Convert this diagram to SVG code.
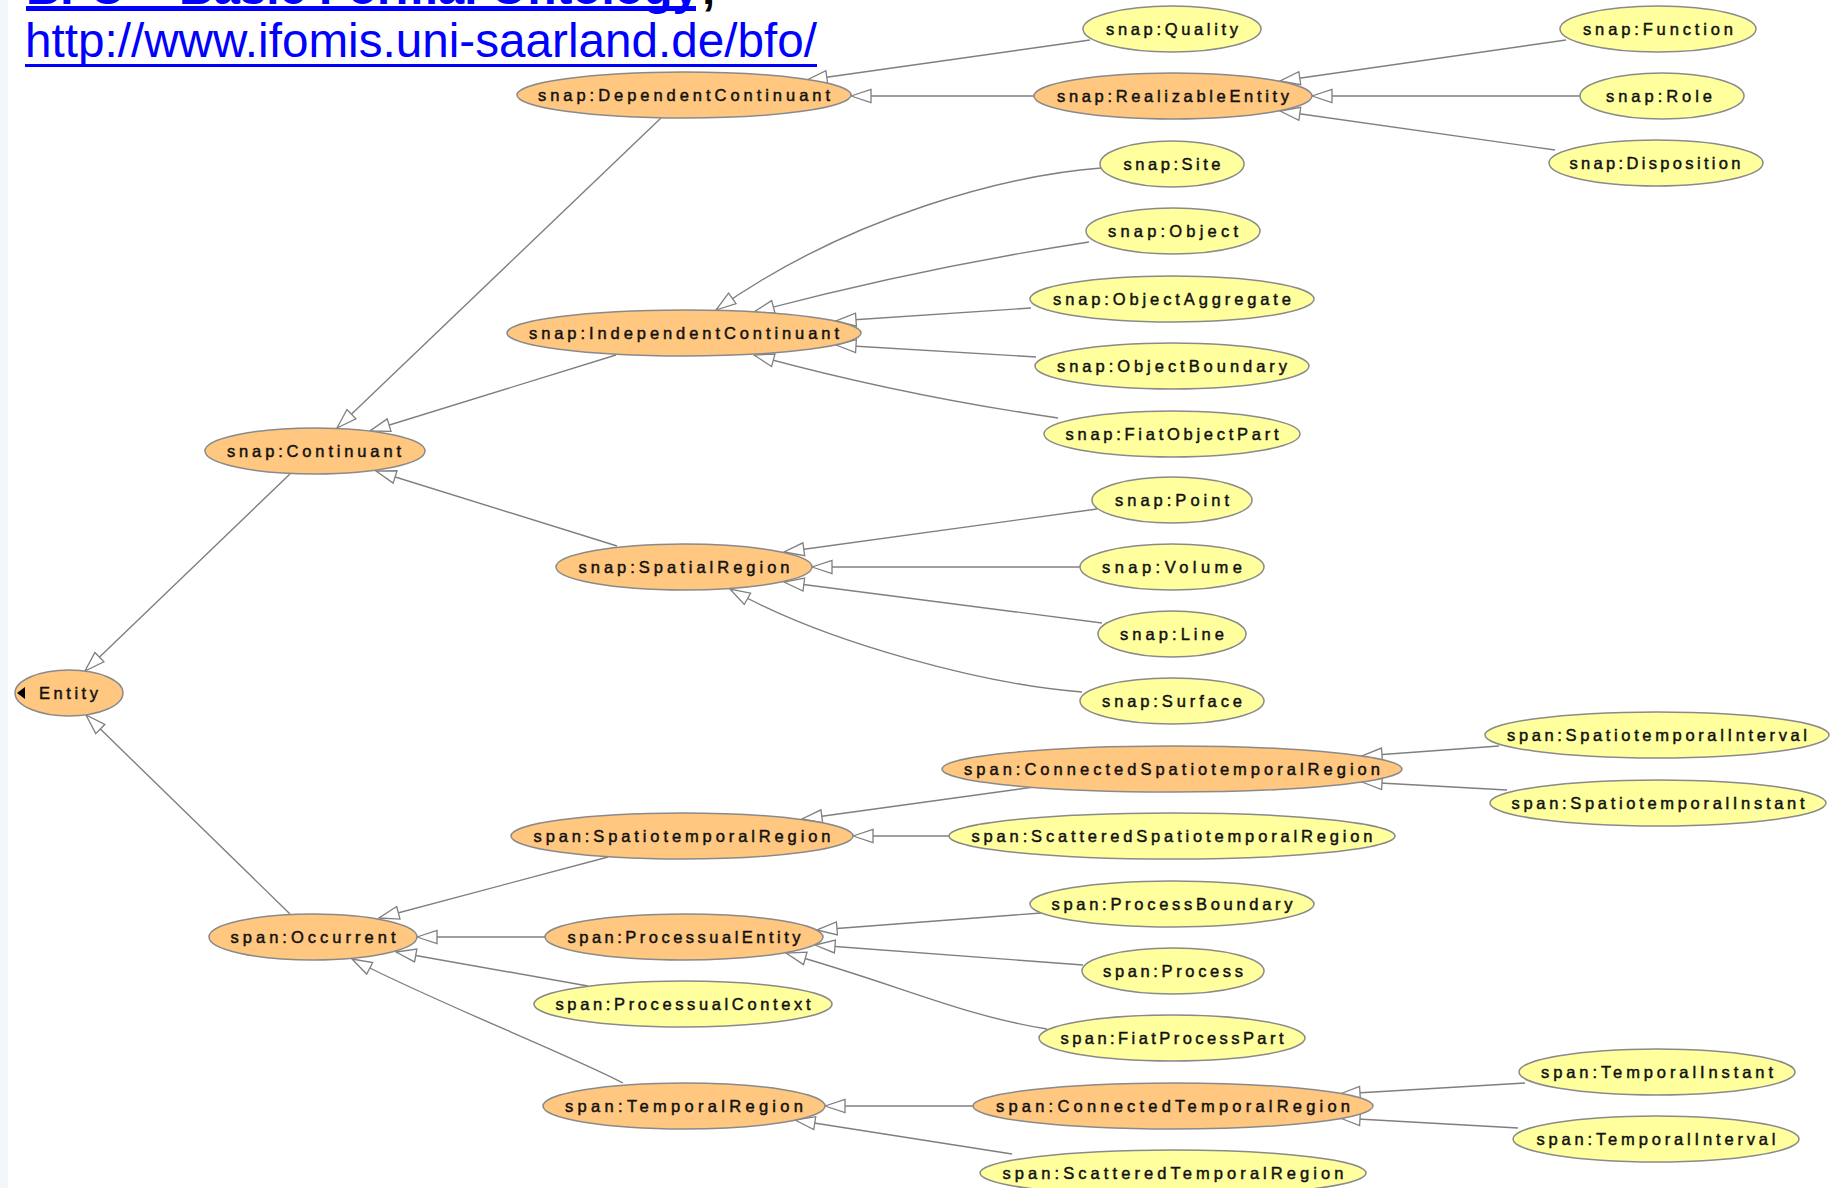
<svg xmlns="http://www.w3.org/2000/svg" width="1834" height="1188" viewBox="0 0 1834 1188">
  <defs>
    <marker id="hollow" viewBox="0 0 22 16" markerWidth="22" markerHeight="16" markerUnits="userSpaceOnUse" refX="21" refY="8" orient="auto">
      <path d="M21,8 L1,1.5 L1,14.5 Z" fill="#ffffff" stroke="#7f7f7f" stroke-width="1.3" stroke-linejoin="miter"/>
    </marker>
  </defs>
  <style>
    .edge { fill: none; stroke: #7f7f7f; stroke-width: 1.4; marker-end: url(#hollow); }
    .node ellipse { stroke: #8a8a8a; stroke-width: 1.5; }
    .parent ellipse { fill: #FFC77F; }
    .leaf ellipse { fill: #FFFF9E; }
    .node text { font-family: "Liberation Sans", Arial, sans-serif; font-size: 16.5px; fill: #111111; stroke: #111111; stroke-width: 0.45; text-anchor: middle; }
    .link { font-family: "Liberation Sans", Arial, sans-serif; fill: #0000FF; }
  </style>

  <rect x="0" y="0" width="1834" height="1188" fill="#ffffff"/>
  <rect x="0" y="0" width="8" height="1188" fill="#F3F6FA"/>

  <!-- header links (first line runs off the top edge) -->
  <g id="header">
    <text class="link" x="26" y="4" font-size="47.5" font-weight="bold">BFO – Basic Formal Ontology</text>
    <rect x="26" y="6" width="670" height="5" fill="#0000FF"/>
    <text x="702" y="4" font-family="Liberation Sans, Arial, sans-serif" font-size="47.5" font-weight="bold" fill="#000000">,</text>
    <text class="link" x="25" y="57" font-size="47.5" textLength="792" lengthAdjust="spacingAndGlyphs">http://www.ifomis.uni-saarland.de/bfo/</text>
    <rect x="25" y="64" width="792" height="3" fill="#0000FF"/>
  </g>

  <!-- subclass connectors, arrow at the superclass -->
  <g id="connectors">
    <path class="edge" d="M1090,40 L807,80"/>
    <path class="edge" d="M1034,96 L851,96"/>
    <path class="edge" d="M1566,40 L1280,81"/>
    <path class="edge" d="M1580,96 L1312,96"/>
    <path class="edge" d="M1555,150 L1280,111"/>
    <path class="edge" d="M661,118 L337,428"/>
    <path class="edge" d="M616,355 L370,431"/>
    <path class="edge" d="M1101,168 C1010,175 850,215 716,310"/>
    <path class="edge" d="M1089,242 Q920,268 754,312"/>
    <path class="edge" d="M1031,308 L836,321"/>
    <path class="edge" d="M1036,357 L836,345"/>
    <path class="edge" d="M1058,418 Q900,395 754,355"/>
    <path class="edge" d="M617,546 L376,471"/>
    <path class="edge" d="M290,474 L85,671"/>
    <path class="edge" d="M290,914 L86,715"/>
    <path class="edge" d="M1097,509 L784,552"/>
    <path class="edge" d="M1080,567 L812,567"/>
    <path class="edge" d="M1102,623 L784,582"/>
    <path class="edge" d="M1082,692 C990,685 830,645 730,589"/>
    <path class="edge" d="M1499,746 L1362,756"/>
    <path class="edge" d="M1507,790 L1362,782"/>
    <path class="edge" d="M1034,787 L802,819"/>
    <path class="edge" d="M949,836 L853,836"/>
    <path class="edge" d="M608,857 L379,918"/>
    <path class="edge" d="M545,937 L417,937"/>
    <path class="edge" d="M588,986 L396,952"/>
    <path class="edge" d="M623,1083 C570,1055 430,1000 352,959"/>
    <path class="edge" d="M1041,913 L817,930"/>
    <path class="edge" d="M1083,965 L815,945"/>
    <path class="edge" d="M1047,1029 C960,1015 900,985 786,953"/>
    <path class="edge" d="M973,1106 L825,1106"/>
    <path class="edge" d="M1012,1154 L795,1120"/>
    <path class="edge" d="M1525,1083 L1340,1094"/>
    <path class="edge" d="M1518,1128 L1340,1118"/>
  </g>

  <!-- class nodes -->
  <g id="n-entity" class="node parent">
    <ellipse cx="69" cy="693" rx="54" ry="23"/>
    <path d="M17,693 L25,687 L25,699 Z" fill="#000000"/>
    <text x="68.5" y="699" textLength="59" lengthAdjust="spacing">Entity</text>
  </g>
  <g id="n-continuant" class="node parent">
    <ellipse cx="315" cy="451" rx="110" ry="23"/>
    <text x="314" y="457" textLength="174" lengthAdjust="spacing">snap:Continuant</text>
  </g>
  <g id="n-occurrent" class="node parent">
    <ellipse cx="313" cy="937" rx="104" ry="23"/>
    <text x="313" y="943" textLength="165" lengthAdjust="spacing">span:Occurrent</text>
  </g>
  <g id="n-dependent-continuant" class="node parent">
    <ellipse cx="684" cy="95" rx="167" ry="23"/>
    <text x="684" y="101" textLength="292" lengthAdjust="spacing">snap:DependentContinuant</text>
  </g>
  <g id="n-independent-continuant" class="node parent">
    <ellipse cx="684" cy="333" rx="177" ry="23"/>
    <text x="684" y="339" textLength="310" lengthAdjust="spacing">snap:IndependentContinuant</text>
  </g>
  <g id="n-spatial-region" class="node parent">
    <ellipse cx="684" cy="567" rx="128" ry="23"/>
    <text x="684" y="573" textLength="211" lengthAdjust="spacing">snap:SpatialRegion</text>
  </g>
  <g id="n-spatiotemporal-region" class="node parent">
    <ellipse cx="682" cy="836" rx="171" ry="23"/>
    <text x="682" y="842" textLength="297" lengthAdjust="spacing">span:SpatiotemporalRegion</text>
  </g>
  <g id="n-processual-entity" class="node parent">
    <ellipse cx="684" cy="937" rx="139" ry="23"/>
    <text x="684" y="943" textLength="233" lengthAdjust="spacing">span:ProcessualEntity</text>
  </g>
  <g id="n-processual-context" class="node leaf">
    <ellipse cx="683" cy="1004" rx="149" ry="23"/>
    <text x="683" y="1010" textLength="255" lengthAdjust="spacing">span:ProcessualContext</text>
  </g>
  <g id="n-temporal-region" class="node parent">
    <ellipse cx="684" cy="1106" rx="141" ry="23"/>
    <text x="684" y="1112" textLength="238" lengthAdjust="spacing">span:TemporalRegion</text>
  </g>
  <g id="n-quality" class="node leaf">
    <ellipse cx="1172" cy="29" rx="89" ry="23"/>
    <text x="1172" y="35" textLength="132" lengthAdjust="spacing">snap:Quality</text>
  </g>
  <g id="n-realizable-entity" class="node parent">
    <ellipse cx="1173" cy="96" rx="139" ry="23"/>
    <text x="1173" y="102" textLength="232" lengthAdjust="spacing">snap:RealizableEntity</text>
  </g>
  <g id="n-site" class="node leaf">
    <ellipse cx="1172" cy="164" rx="72" ry="23"/>
    <text x="1172" y="170" textLength="97" lengthAdjust="spacing">snap:Site</text>
  </g>
  <g id="n-object" class="node leaf">
    <ellipse cx="1173" cy="231" rx="87" ry="23"/>
    <text x="1173" y="237" textLength="130" lengthAdjust="spacing">snap:Object</text>
  </g>
  <g id="n-object-aggregate" class="node leaf">
    <ellipse cx="1172" cy="299" rx="142" ry="23"/>
    <text x="1172" y="305" textLength="238" lengthAdjust="spacing">snap:ObjectAggregate</text>
  </g>
  <g id="n-object-boundary" class="node leaf">
    <ellipse cx="1172" cy="366" rx="137" ry="23"/>
    <text x="1172" y="372" textLength="230" lengthAdjust="spacing">snap:ObjectBoundary</text>
  </g>
  <g id="n-fiat-object-part" class="node leaf">
    <ellipse cx="1172" cy="434" rx="128" ry="23"/>
    <text x="1172" y="440" textLength="213" lengthAdjust="spacing">snap:FiatObjectPart</text>
  </g>
  <g id="n-point" class="node leaf">
    <ellipse cx="1172" cy="500" rx="80" ry="23"/>
    <text x="1172" y="506" textLength="114" lengthAdjust="spacing">snap:Point</text>
  </g>
  <g id="n-volume" class="node leaf">
    <ellipse cx="1172" cy="567" rx="92" ry="23"/>
    <text x="1172" y="573" textLength="140" lengthAdjust="spacing">snap:Volume</text>
  </g>
  <g id="n-line" class="node leaf">
    <ellipse cx="1172" cy="634" rx="74" ry="23"/>
    <text x="1172" y="640" textLength="104" lengthAdjust="spacing">snap:Line</text>
  </g>
  <g id="n-surface" class="node leaf">
    <ellipse cx="1172" cy="701" rx="92" ry="23"/>
    <text x="1172" y="707" textLength="140" lengthAdjust="spacing">snap:Surface</text>
  </g>
  <g id="n-connected-spatiotemporal-region" class="node parent">
    <ellipse cx="1172" cy="769" rx="230" ry="23"/>
    <text x="1172" y="775" textLength="416" lengthAdjust="spacing">span:ConnectedSpatiotemporalRegion</text>
  </g>
  <g id="n-scattered-spatiotemporal-region" class="node leaf">
    <ellipse cx="1172" cy="836" rx="223" ry="23"/>
    <text x="1172" y="842" textLength="401" lengthAdjust="spacing">span:ScatteredSpatiotemporalRegion</text>
  </g>
  <g id="n-process-boundary" class="node leaf">
    <ellipse cx="1172" cy="904" rx="142" ry="23"/>
    <text x="1172" y="910" textLength="241" lengthAdjust="spacing">span:ProcessBoundary</text>
  </g>
  <g id="n-process" class="node leaf">
    <ellipse cx="1173" cy="971" rx="91" ry="23"/>
    <text x="1173" y="977" textLength="140" lengthAdjust="spacing">span:Process</text>
  </g>
  <g id="n-fiat-process-part" class="node leaf">
    <ellipse cx="1172" cy="1038" rx="133" ry="23"/>
    <text x="1172" y="1044" textLength="223" lengthAdjust="spacing">span:FiatProcessPart</text>
  </g>
  <g id="n-connected-temporal-region" class="node parent">
    <ellipse cx="1173" cy="1106" rx="200" ry="23"/>
    <text x="1173" y="1112" textLength="354" lengthAdjust="spacing">span:ConnectedTemporalRegion</text>
  </g>
  <g id="n-scattered-temporal-region" class="node leaf">
    <ellipse cx="1173" cy="1173" rx="193" ry="23"/>
    <text x="1173" y="1179" textLength="341" lengthAdjust="spacing">span:ScatteredTemporalRegion</text>
  </g>
  <g id="n-function" class="node leaf">
    <ellipse cx="1658" cy="29" rx="98" ry="23"/>
    <text x="1658" y="35" textLength="150" lengthAdjust="spacing">snap:Function</text>
  </g>
  <g id="n-role" class="node leaf">
    <ellipse cx="1662" cy="96" rx="82" ry="23"/>
    <text x="1659" y="102" textLength="106" lengthAdjust="spacing">snap:Role</text>
  </g>
  <g id="n-disposition" class="node leaf">
    <ellipse cx="1656" cy="163" rx="107" ry="23"/>
    <text x="1655" y="169" textLength="171" lengthAdjust="spacing">snap:Disposition</text>
  </g>
  <g id="n-spatiotemporal-interval" class="node leaf">
    <ellipse cx="1657" cy="735" rx="172" ry="23"/>
    <text x="1657" y="741" textLength="300" lengthAdjust="spacing">span:SpatiotemporalInterval</text>
  </g>
  <g id="n-spatiotemporal-instant" class="node leaf">
    <ellipse cx="1658" cy="803" rx="168" ry="23"/>
    <text x="1658" y="809" textLength="293" lengthAdjust="spacing">span:SpatiotemporalInstant</text>
  </g>
  <g id="n-temporal-instant" class="node leaf">
    <ellipse cx="1657" cy="1072" rx="138" ry="23"/>
    <text x="1657" y="1078" textLength="232" lengthAdjust="spacing">span:TemporalInstant</text>
  </g>
  <g id="n-temporal-interval" class="node leaf">
    <ellipse cx="1656" cy="1139" rx="143" ry="23"/>
    <text x="1656" y="1145" textLength="239" lengthAdjust="spacing">span:TemporalInterval</text>
  </g>
</svg>
